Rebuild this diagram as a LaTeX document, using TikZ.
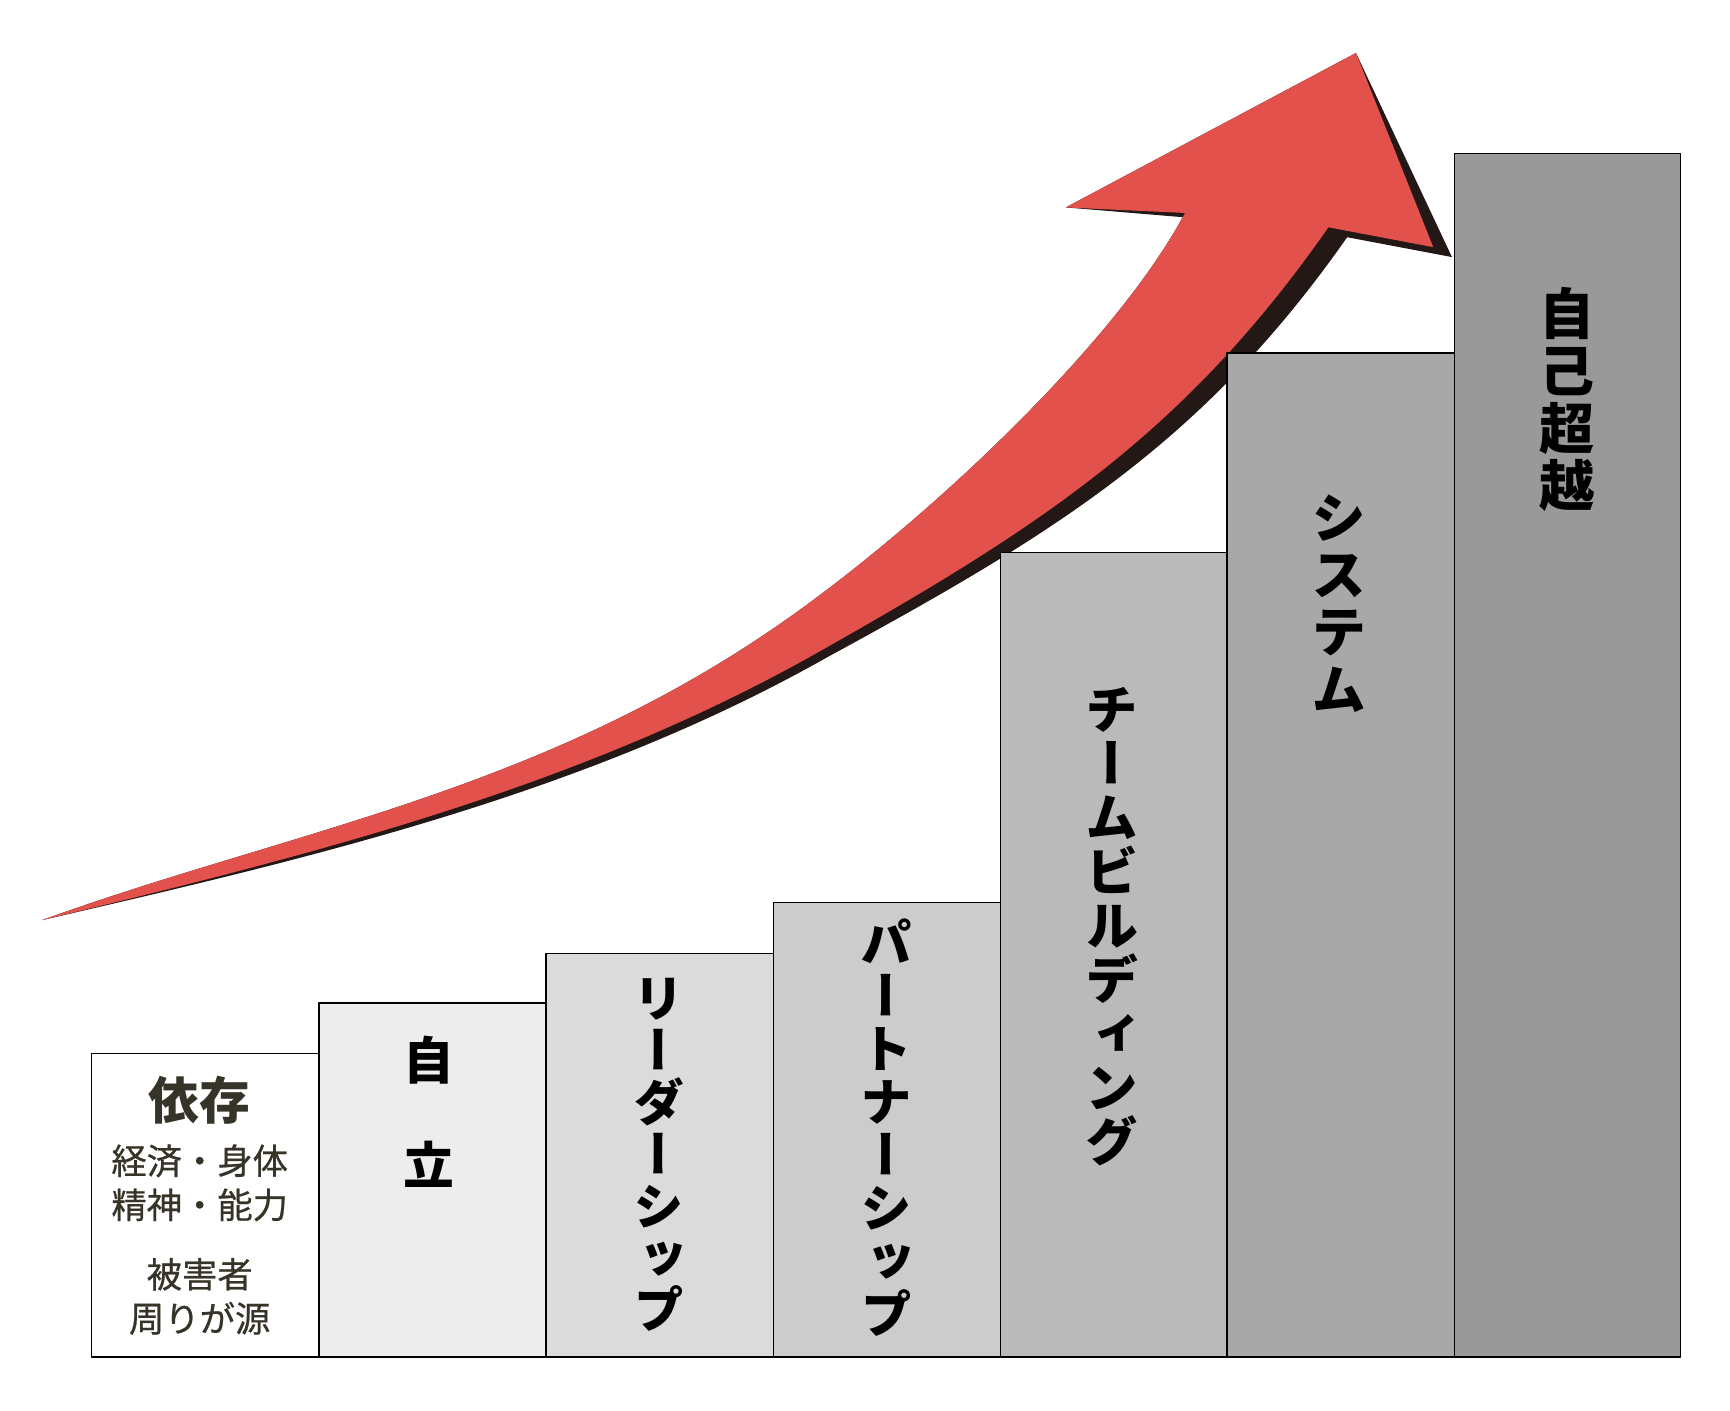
\documentclass[tikz,border=0pt]{standalone}
\usepackage{fontspec}
\newfontfamily\jp{Noto Sans CJK JP}
\newfontfamily\jpmid{Noto Sans CJK JP}[FakeBold=0.6]
\newfontfamily\jpv{Noto Sans CJK JP}[RawFeature=+vert]
\definecolor{arrowred}{RGB}{227,81,77}
\definecolor{arrowshade}{RGB}{35,24,21}
\definecolor{inktext}{RGB}{54,52,40}
\tikzset{
  stair/.style={draw=black,line width=1.2pt},
  tate/.style={font=\jpv\bfseries\fontsize{46}{47}\selectfont,align=center,inner sep=0pt},
  tatebig/.style={tate,font=\jpv\bfseries\fontsize{50}{52}\selectfont},
  yoko/.style={font=\jpmid\fontsize{32}{40}\selectfont,text=inktext,align=center,inner sep=0pt}
}

\begin{document}
\begin{tikzpicture}[x=1pt,y=-1pt,join=round] % Stairs and Growth Arrow
         \useasboundingbox (0,0) rectangle (1568,1278);
         \fill[arrowshade](1229,48)--(1316,233)--(1221,215) .. controls (1090,402) and (955,484) .. (751,595) .. controls (532,719) and (285,777) .. (38,834) .. controls (256,755) and (475,721) .. (693,575) .. controls (823,488) and (1009,316) .. (1074,193)--(1074,197)--(966,188)--cycle;
         \fill[arrowred](1229,48)--(1299,224)--(1204,206) .. controls (1072,395) and (940,479) .. (740,592) .. controls (522,715) and (281,775) .. (38,834) .. controls (256,755) and (475,721) .. (693,575) .. controls (823,488) and (1009,316) .. (1074,193)--(966,188)--cycle;
         \filldraw[stair,fill=white](83,955) rectangle (289,1230);
         \filldraw[stair,fill=black!7](289,909) rectangle (495,1230);
         \filldraw[stair,fill=black!14](495,864) rectangle (701,1230);
         \filldraw[stair,fill=black!20](701,818) rectangle (907,1230);
         \filldraw[stair,fill=black!27](907,501) rectangle (1112,1230);
         \filldraw[stair,fill=black!34](1112,320) rectangle (1318,1230);
         \filldraw[stair,fill=black!40](1318,139) rectangle (1523,1230);
         \node[font=\jp\bfseries\fontsize{46}{46}\selectfont,text=inktext,inner sep=0pt] (izon) at (181,997) {依存};
         \node[yoko] (izonkind) at (181,1072) {経済・身体\\精神・能力};
         \node[yoko] (higai) at (181,1175) {被害者\\周りが源};
         \node[tate] (jiritsu) at (389,1008) {自\\[48pt]立};
         \node[tate] (leader) at (597,1047) {リ\\ー\\ダ\\ー\\シ\\ッ\\プ};
         \node[tate,font=\jpv\bfseries\fontsize{47}{48}\selectfont] (partner) at (803,1022) {パ\\ー\\ト\\ナ\\ー\\シ\\ッ\\プ};
         \node[tate,font=\jpv\bfseries\fontsize{48}{49}\selectfont] (team) at (1008,840) {チ\\ー\\ム\\ビ\\ル\\デ\\ィ\\ン\\グ};
         \node[tatebig] (system) at (1214,547) {シ\\ス\\テ\\ム};
         \node[tatebig] (jiko) at (1420,362) {自\\己\\超\\越};
\end{tikzpicture}
\end{document}
